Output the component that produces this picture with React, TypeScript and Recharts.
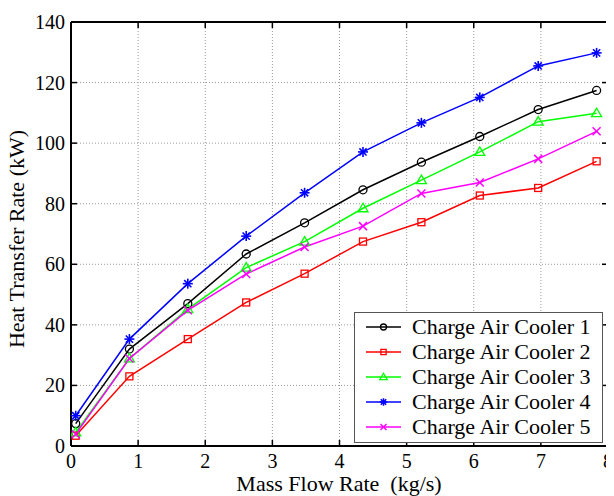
import React from 'react';
import { LineChart, Line, XAxis, YAxis, CartesianGrid, Label } from 'recharts';

const massFlow = [0.07, 0.87, 1.74, 2.61, 3.48, 4.35, 5.22, 6.09, 6.96, 7.83];
const cooler1 = [7.4, 32.0, 47.0, 63.4, 73.7, 84.6, 93.7, 102.2, 111.1, 117.4];
const cooler2 = [3.4, 23.0, 35.3, 47.4, 56.9, 67.5, 73.9, 82.7, 85.2, 94.0];
const cooler3 = [4.5, 28.9, 45.2, 58.9, 67.5, 78.5, 87.8, 97.1, 107.1, 109.9];
const cooler4 = [10.0, 35.3, 53.6, 69.3, 83.6, 97.1, 106.7, 115.1, 125.5, 129.8];
const cooler5 = [3.9, 28.9, 44.8, 56.8, 65.7, 72.6, 83.4, 87.0, 94.8, 103.9];

const xTicks = [0, 1, 2, 3, 4, 5, 6, 7, 8];
const yTicks = [0, 20, 40, 60, 80, 100, 120, 140];

const FONT = '"Liberation Serif", "Times New Roman", serif';

const data = massFlow.map((x, i) => ({
  x,
  c1: cooler1[i],
  c2: cooler2[i],
  c3: cooler3[i],
  c4: cooler4[i],
  c5: cooler5[i],
}));

// marker shapes, drawn unfilled like the original plot
function Marker({ kind, cx, cy, color, s = 1 }: { kind: string; cx: number; cy: number; color: string; s?: number }) {
  if (cx == null || cy == null) return null;
  switch (kind) {
    case 'circle':
      return <circle cx={cx} cy={cy} r={4 * s} fill="none" stroke={color} strokeWidth={1.3} />;
    case 'square':
      return <rect x={cx - 3.5 * s} y={cy - 3.5 * s} width={7 * s} height={7 * s} fill="none" stroke={color} strokeWidth={1.3} />;
    case 'triangle': {
      const r = 5 * s;
      return (
        <polygon
          points={`${cx},${cy - r} ${cx - r},${cy + r * 0.7} ${cx + r},${cy + r * 0.7}`}
          fill="none"
          stroke={color}
          strokeWidth={1.3}
        />
      );
    }
    case 'star': {
      const r = 5 * s;
      const d = r * 0.72;
      return (
        <g stroke={color} strokeWidth={1.6}>
          <line x1={cx - r} y1={cy} x2={cx + r} y2={cy} />
          <line x1={cx} y1={cy - r} x2={cx} y2={cy + r} />
          <line x1={cx - d} y1={cy - d} x2={cx + d} y2={cy + d} />
          <line x1={cx - d} y1={cy + d} x2={cx + d} y2={cy - d} />
        </g>
      );
    }
    default: {
      const d = 4 * s;
      return (
        <g stroke={color} strokeWidth={1.5}>
          <line x1={cx - d} y1={cy - d} x2={cx + d} y2={cy + d} />
          <line x1={cx - d} y1={cy + d} x2={cx + d} y2={cy - d} />
        </g>
      );
    }
  }
}

const series = [
  { key: 'c1', name: 'Charge Air Cooler 1', color: '#000000', marker: 'circle' },
  { key: 'c2', name: 'Charge Air Cooler 2', color: '#ff0000', marker: 'square' },
  { key: 'c3', name: 'Charge Air Cooler 3', color: '#00ff00', marker: 'triangle' },
  { key: 'c4', name: 'Charge Air Cooler 4', color: '#0000ff', marker: 'star' },
  { key: 'c5', name: 'Charge Air Cooler 5', color: '#ff00ff', marker: 'x' },
];

const XTick = ({ x, y, payload }: any) => (
  <text x={x} y={y} dy={14} textAnchor="middle" style={{ fontFamily: FONT, fontSize: 20 }} fill="#000">
    {payload.value}
  </text>
);

const YTick = ({ x, y, payload }: any) => (
  <text x={x} y={y} dy={7} textAnchor="end" style={{ fontFamily: FONT, fontSize: 20 }} fill="#000">
    {payload.value}
  </text>
);

// inward tick marks on all four sides, drawn by mirrored axes without labels
const frameTick = { stroke: '#000', strokeWidth: 1.5 };
const noLabel = () => '';

export default function App() {
  return (
    <div style={{ position: 'relative', width: 606, height: 488, background: '#fff', fontFamily: FONT }}>
      <LineChart width={606} height={488} data={data} margin={{ top: 14, right: 6, left: 0, bottom: 0 }}>
        <CartesianGrid stroke="#9a9a9a" strokeDasharray="1 2" strokeWidth={1} />
        <XAxis
          dataKey="x"
          type="number"
          domain={[0, 8]}
          ticks={xTicks}
          allowDataOverflow
          height={50}
          axisLine={false}
          tickLine={false}
          tickSize={0}
          tickMargin={8}
          tick={<XTick />}
        >
          <Label
            content={() => (
              <text x={331} y={483} textAnchor="middle" style={{ fontFamily: FONT, fontSize: 22, whiteSpace: 'pre' }} fill="#000">
                {'Mass Flow Rate  (kg/s)'}
              </text>
            )}
          />
        </XAxis>
        <XAxis
          xAxisId="bottomFrame"
          dataKey="x"
          orientation="bottom"
          mirror
          type="number"
          domain={[0, 8]}
          ticks={xTicks}
          allowDataOverflow
          height={1}
          stroke="#000"
          strokeWidth={2}
          tickSize={6}
          tickFormatter={noLabel}
          tickLine={frameTick}
        />
        <XAxis
          xAxisId="topFrame"
          dataKey="x"
          orientation="top"
          mirror
          type="number"
          domain={[0, 8]}
          ticks={xTicks}
          allowDataOverflow
          height={1}
          stroke="#000"
          strokeWidth={2}
          tickSize={6}
          tickFormatter={noLabel}
          tickLine={frameTick}
        />
        <YAxis
          type="number"
          domain={[0, 140]}
          ticks={yTicks}
          allowDataOverflow
          width={63}
          axisLine={false}
          tickLine={false}
          tickSize={0}
          tickMargin={6}
          tick={<YTick />}
        >
          <Label
            content={() => (
              <text
                x={16}
                y={231}
                textAnchor="middle"
                transform="rotate(-90 16 231)"
                style={{ fontFamily: FONT, fontSize: 22 }}
                fill="#000"
              >
                Heat Transfer Rate (kW)
              </text>
            )}
          />
        </YAxis>
        <YAxis
          yAxisId="leftFrame"
          orientation="left"
          mirror
          type="number"
          domain={[0, 140]}
          ticks={yTicks}
          allowDataOverflow
          width={1}
          stroke="#000"
          strokeWidth={2}
          tickSize={6}
          tickFormatter={noLabel}
          tickLine={frameTick}
        />
        <YAxis
          yAxisId="rightFrame"
          orientation="right"
          mirror
          type="number"
          domain={[0, 140]}
          ticks={yTicks}
          allowDataOverflow
          width={1}
          stroke="#000"
          strokeWidth={2}
          tickSize={6}
          tickFormatter={noLabel}
          tickLine={frameTick}
        />
        {/* invisible series that tie the frame axes to the data */}
        <Line
          xAxisId="bottomFrame"
          yAxisId="leftFrame"
          dataKey="c1"
          stroke="none"
          dot={false}
          activeDot={false}
          legendType="none"
          isAnimationActive={false}
        />
        <Line
          xAxisId="topFrame"
          yAxisId="rightFrame"
          dataKey="c1"
          stroke="none"
          dot={false}
          activeDot={false}
          legendType="none"
          isAnimationActive={false}
        />
        {series.map((s) => (
          <Line
            key={s.key}
            type="linear"
            dataKey={s.key}
            name={s.name}
            stroke={s.color}
            strokeWidth={1.5}
            isAnimationActive={false}
            dot={(p: any) => <Marker key={`${s.key}-${p.index}`} kind={s.marker} cx={p.cx} cy={p.cy} color={s.color} />}
            activeDot={false}
          />
        ))}
      </LineChart>

      {/* legend box, lower right inside the plot */}
      <div
        style={{
          position: 'absolute',
          left: 346,
          top: 304,
          width: 247,
          height: 128,
          border: '1px solid #555',
          background: '#fff',
          paddingTop: 1,
          fontFamily: FONT,
          fontSize: 22,
          color: '#000',
        }}
      >
        {series.map((s) => (
          <div key={s.key} style={{ display: 'flex', alignItems: 'center', height: 25, lineHeight: '25px' }}>
            <svg width={57} height={25} style={{ flex: 'none' }}>
              <line x1={11} y1={13} x2={46} y2={13} stroke={s.color} strokeWidth={1.5} />
              <Marker kind={s.marker} cx={28.5} cy={13} color={s.color} s={0.75} />
            </svg>
            <span style={{ whiteSpace: 'nowrap' }}>{s.name}</span>
          </div>
        ))}
      </div>
    </div>
  );
}
